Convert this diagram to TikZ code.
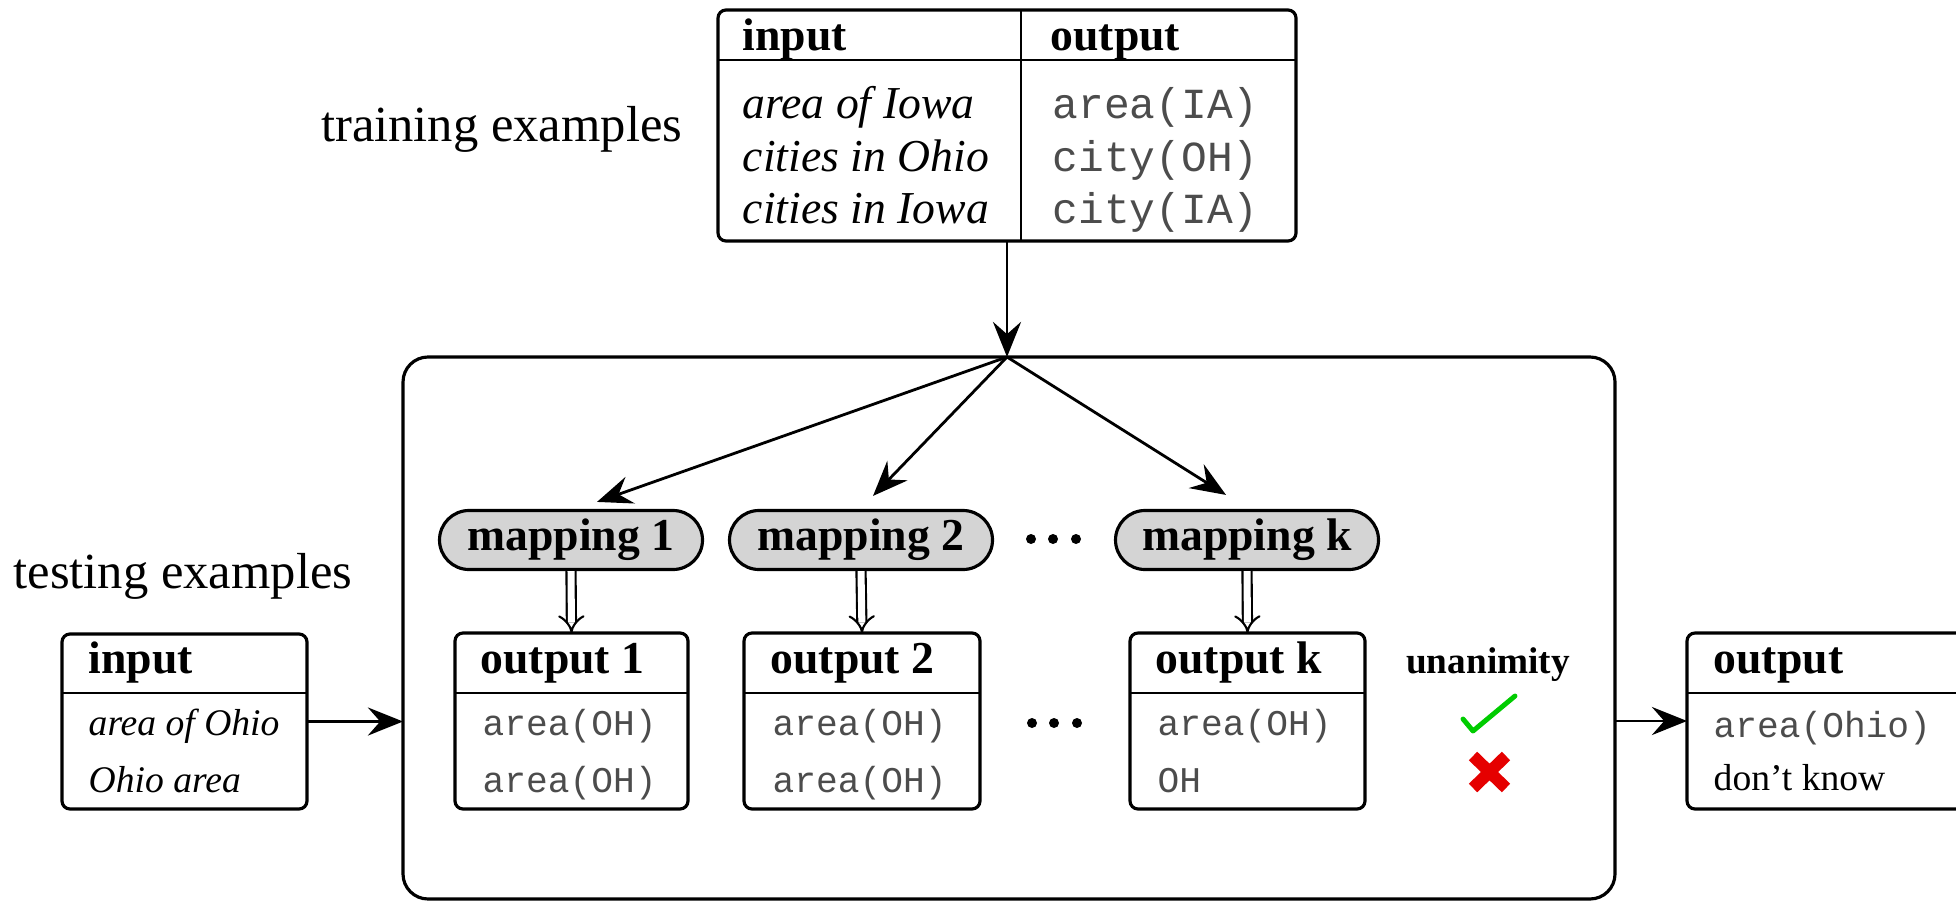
\documentclass[tikz,border=0pt]{standalone}
\usepackage{fontspec}
\setmainfont{Liberation Serif}
\setmonofont{Liberation Mono}
\usetikzlibrary{arrows.meta, calc, positioning, shapes.misc}
\newcommand{\headline}[2]{
  \draw [sepline] ($(#1.north west)+(0,#2)$) -- ($(#1.north east)+(0,#2)$);
}

\begin{document}
\begin{tikzpicture}[x=0.1mm, y=-0.1mm,
    box/.style={draw, line width=0.9pt, rounded corners=0.8mm, inner sep=0, outer sep=0},
    sepline/.style={line width=0.5pt},
    mapbox/.style={draw, rounded rectangle, fill=black!17, line width=0.9pt, minimum width=26.3mm, minimum height=5.9mm, inner sep=0, font=\bfseries\fontsize{13}{15}\selectfont},
    head/.style={anchor=base west, inner sep=0, font=\bfseries\fontsize{13}{15}\selectfont},
    bigitem/.style={anchor=base west, inner sep=0, font=\itshape\fontsize{13}{15}\selectfont},
    bigprog/.style={anchor=base west, inner sep=0, text=black!70, font=\ttfamily\fontsize{12.2}{14}\selectfont},
    smallitem/.style={anchor=base west, inner sep=0, font=\fontsize{10.7}{13}\selectfont},
    prog/.style={anchor=base west, inner sep=0, text=black!70, font=\ttfamily\fontsize{10.3}{12}\selectfont},
    tag/.style={anchor=base east, inner sep=0, font=\fontsize{14.4}{17}\selectfont},
    arr/.style={-{Stealth[length=10pt, width=8pt, inset=3.5pt]}, line width=0.8pt},
    dbl/.style={double, double distance=2pt, line width=0.6pt, -{Implies[length=4pt, width=9pt]}},
  ]
  \useasboundingbox (0,0) rectangle (1956,903);

  %table des exemples d'entrainement
  \node [box, minimum width=57.8mm, minimum height=23.1mm] (train) at (1007,125.5) {};
  \headline{train}{50}
  \draw [sepline] ($(train.north)+(14,0)$) -- ($(train.south)+(14,0)$);
  \node [tag] (trainlbl) at (683,142) {training examples};
  \node [head] (trainin) at (742,51) {input};
  \node [head] (trainout) at (1050,51) {output};
  \node [bigitem] (ex1) at (742,119) {area of Iowa};
  \node [bigitem] (ex2) at (742,171) {cities in Ohio};
  \node [bigitem] (ex3) at (742,223) {cities in Iowa};
  \node [bigprog] (lf1) at (1052,119) {area(IA)};
  \node [bigprog] (lf2) at (1052,171) {city(OH)};
  \node [bigprog] (lf3) at (1052,223) {city(IA)};

  %le grand cadre
  \node [box, rounded corners=2.5mm, minimum width=121.2mm, minimum height=54.2mm] (frame) at (1009,628) {};
  \coordinate (hub) at (train.south |- frame.north);
  \draw [arr] (train.south) -- (hub);

  %les mappings
  \node [mapbox] (map1) at (571,540) {mapping 1};
  \node [mapbox] (map2) at (861,540) {mapping 2};
  \node [mapbox] (mapk) at (1247,540) {mapping k};
  \draw [arr] (hub) -- ($(map1.north)+(26,-7)$);
  \draw [arr] (hub) -- ($(map2.north)+(12,-13)$);
  \draw [arr] (hub) -- ($(mapk.north)+(-21,-14)$);
  \node (gapA) at (1053,539) {};
  \foreach \dx in {-22,0,23} \fill ($(gapA)+(\dx,0)$) circle (0.5mm);

  %les sorties
  \node [box, minimum width=23.3mm, minimum height=17.6mm] (out1) at (571.5,721) {};
  \node [box, minimum width=23.6mm, minimum height=17.6mm] (out2) at (862,721) {};
  \node [box, minimum width=23.5mm, minimum height=17.6mm] (outk) at (1247.5,721) {};
  \headline{out1}{60}
  \headline{out2}{60}
  \headline{outk}{60}
  \draw [dbl] (map1.south) -- (out1.north);
  \draw [dbl] (map2.south) -- (out2.north);
  \draw [dbl] (mapk.south) -- (outk.north);
  \node [head] (out1hd) at (480,673) {output 1};
  \node [prog] (out1a) at (482,735) {area(OH)};
  \node [prog] (out1b) at (482,792) {area(OH)};
  \node [head] (out2hd) at (770,673) {output 2};
  \node [prog] (out2a) at (772,735) {area(OH)};
  \node [prog] (out2b) at (772,792) {area(OH)};
  \node [head] (outkhd) at (1155,673) {output k};
  \node [prog] (outka) at (1157,735) {area(OH)};
  \node [prog] (outkb) at (1157,792) {OH};
  \node (gapB) at (1054,723) {};
  \foreach \dx in {-22,0,23} \fill ($(gapB)+(\dx,0)$) circle (0.5mm);

  %unanimite
  \node [anchor=base, inner sep=0, font=\bfseries\fontsize{10.6}{13}\selectfont] (vote) at (1488,673) {unanimity};
  \draw [line width=1.4pt, color=green!80!black, line cap=round, line join=round] (1463,719) -- (1473,731) -- (1515,696);
  \draw [line width=3.4pt, color=red!90!black] (1473,756) -- (1506,788) (1506,756) -- (1473,788);

  %exemples de test
  \node [tag] (testlbl) at (353,588) {testing examples};
  \node [box, minimum width=24.5mm, minimum height=17.5mm] (in) at (184.5,721.5) {};
  \headline{in}{59}
  \node [head] (inhd) at (88,673) {input};
  \node [smallitem, font=\itshape\fontsize{10.7}{13}\selectfont] (in1) at (88,735) {area of Ohio};
  \node [smallitem, font=\itshape\fontsize{10.7}{13}\selectfont] (in2) at (88,792) {Ohio area};
  \draw [arr] (in.east) -- (in.east -| frame.west);

  %sortie finale
  \node [box, minimum width=31.3mm, minimum height=17.6mm] (final) at (1843.5,721) {};
  \headline{final}{60}
  \node [head] (finalhd) at (1713,673) {output};
  \node [prog] (final1) at (1713,737) {area(Ohio)};
  \node [smallitem] (final2) at (1713,790) {don't know};
  \draw [arr] (frame.east |- final.west) -- (final.west);
\end{tikzpicture}
\end{document}
